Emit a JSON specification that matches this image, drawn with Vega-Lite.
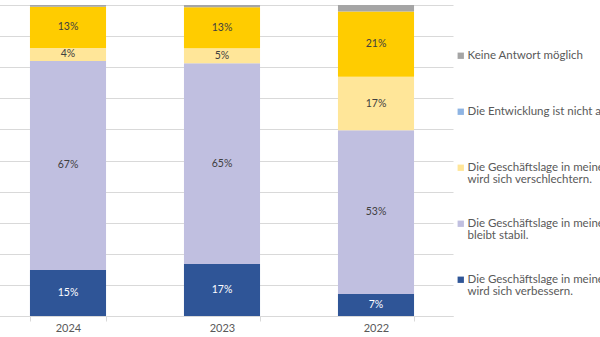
{
  "$schema": "https://vega.github.io/schema/vega-lite/v6.json",
  "width": 453,
  "height": 311,
  "autosize": {"type": "none"},
  "padding": {"left": 0, "top": 5, "right": 147, "bottom": 21},
  "background": "white",
  "config": {"view": {"stroke": null}, "font": "Lato"},
  "data": {
    "values": [
      {"Jahr": "2024", "Antwort": "Die Geschäftslage in meiner Branche wird sich verbessern.", "Anteil": 0.148},
      {"Jahr": "2024", "Antwort": "Die Geschäftslage in meiner Branche bleibt stabil.", "Anteil": 0.672},
      {"Jahr": "2024", "Antwort": "Die Geschäftslage in meiner Branche wird sich verschlechtern.", "Anteil": 0.042},
      {"Jahr": "2024", "Antwort": "Die Entwicklung ist nicht abschätzbar.", "Anteil": 0.132},
      {"Jahr": "2024", "Antwort": "Keine Antwort möglich", "Anteil": 0.006},
      {"Jahr": "2023", "Antwort": "Die Geschäftslage in meiner Branche wird sich verbessern.", "Anteil": 0.167},
      {"Jahr": "2023", "Antwort": "Die Geschäftslage in meiner Branche bleibt stabil.", "Anteil": 0.646},
      {"Jahr": "2023", "Antwort": "Die Geschäftslage in meiner Branche wird sich verschlechtern.", "Anteil": 0.048},
      {"Jahr": "2023", "Antwort": "Die Entwicklung ist nicht abschätzbar.", "Anteil": 0.132},
      {"Jahr": "2023", "Antwort": "Keine Antwort möglich", "Anteil": 0.007},
      {"Jahr": "2022", "Antwort": "Die Geschäftslage in meiner Branche wird sich verbessern.", "Anteil": 0.071},
      {"Jahr": "2022", "Antwort": "Die Geschäftslage in meiner Branche bleibt stabil.", "Anteil": 0.526},
      {"Jahr": "2022", "Antwort": "Die Geschäftslage in meiner Branche wird sich verschlechtern.", "Anteil": 0.172},
      {"Jahr": "2022", "Antwort": "Die Entwicklung ist nicht abschätzbar.", "Anteil": 0.210},
      {"Jahr": "2022", "Antwort": "Keine Antwort möglich", "Anteil": 0.021}
    ]
  },
  "transform": [
    {"calculate": "indexof(['Die Geschäftslage in meiner Branche wird sich verbessern.', 'Die Geschäftslage in meiner Branche bleibt stabil.', 'Die Geschäftslage in meiner Branche wird sich verschlechtern.', 'Die Entwicklung ist nicht abschätzbar.', 'Keine Antwort möglich'], datum.Antwort)", "as": "rang"}
  ],
  "encoding": {
    "x": {
      "field": "Jahr",
      "type": "nominal",
      "sort": ["2024", "2023", "2022"],
      "scale": {"range": [-9, 453], "paddingInner": 0.506, "paddingOuter": 0.253},
      "axis": {
        "title": null,
        "labelAngle": 0,
        "tickBand": "extent",
        "domainColor": "#d9d9d9",
        "tickColor": "#d9d9d9",
        "tickSize": 5,
        "labelColor": "#595959",
        "labelFontSize": 11,
        "labelPadding": 1,
        "grid": false
      }
    }
  },
  "layer": [
    {
      "mark": {"type": "square", "filled": true, "size": 4, "opacity": 1},
      "encoding": {
        "y": {
          "field": "Anteil",
          "type": "quantitative",
          "scale": {"domain": [0, 1]},
          "axis": {
            "title": null,
            "labels": false,
            "ticks": false,
            "domain": false,
            "grid": true,
            "gridColor": "#d9d9d9",
            "values": [0, 0.1, 0.2, 0.3, 0.4, 0.5, 0.6, 0.7, 0.8, 0.9, 1]
          }
        },
        "fill": {
          "field": "Antwort",
          "type": "nominal",
          "scale": {
            "domain": ["Keine Antwort möglich", "Die Entwicklung ist nicht abschätzbar.", "Die Geschäftslage in meiner Branche wird sich verschlechtern.", "Die Geschäftslage in meiner Branche bleibt stabil.", "Die Geschäftslage in meiner Branche wird sich verbessern."],
            "range": ["#A5A5A5", "#8EB4E3", "#FFE699", "#C0BFE0", "#2F5597"]
          },
          "legend": {
            "orient": "none",
            "legendX": 455,
            "legendY": 45,
            "title": null,
            "symbolType": "square",
            "symbolSize": 40,
            "symbolStrokeWidth": 0,
            "symbolOpacity": 1,
            "labelFontSize": 11.5,
            "labelColor": "#595959",
            "labelLimit": 400,
            "labelOffset": 1,
            "rowPadding": 31,
            "labelExpr": "indexof(datum.label, 'Branche ') > 0 ? split(replace(datum.label, 'Branche ', 'Branche|'), '|') : split(datum.label + '| ', '|')",
            "encode": {
              "labels": {"update": {"lineHeight": {"value": 12}}}
            }
          }
        }
      }
    },
    {
      "mark": {"type": "bar"},
      "encoding": {
        "y": {
          "field": "Anteil",
          "type": "quantitative",
          "stack": "zero",
          "scale": {"domain": [0, 1]},
          "axis": {
            "title": null,
            "labels": false,
            "ticks": false,
            "domain": false,
            "grid": true,
            "gridColor": "#d9d9d9",
            "values": [0, 0.1, 0.2, 0.3, 0.4, 0.5, 0.6, 0.7, 0.8, 0.9, 1]
          }
        },
        "order": {"field": "rang", "type": "quantitative"},
        "color": {
          "field": "Antwort",
          "type": "nominal",
          "scale": {
            "domain": ["Keine Antwort möglich", "Die Entwicklung ist nicht abschätzbar.", "Die Geschäftslage in meiner Branche wird sich verschlechtern.", "Die Geschäftslage in meiner Branche bleibt stabil.", "Die Geschäftslage in meiner Branche wird sich verbessern."],
            "range": ["#A5A5A5", "#FFCC00", "#FFE699", "#C0BFE0", "#2F5597"]
          },
          "legend": null
        }
      }
    },
    {
      "transform": [
        {"stack": "Anteil", "groupby": ["Jahr"], "sort": [{"field": "rang"}], "as": ["y0", "y1"]},
        {"filter": "datum.Antwort !== 'Keine Antwort möglich'"},
        {"calculate": "(datum.y0 + datum.y1) / 2", "as": "mitte"}
      ],
      "mark": {"type": "text", "fontSize": 10.5},
      "encoding": {
        "y": {
          "field": "mitte",
          "type": "quantitative",
          "axis": {
            "title": null,
            "labels": false,
            "ticks": false,
            "domain": false,
            "grid": true,
            "gridColor": "#d9d9d9",
            "values": [0, 0.1, 0.2, 0.3, 0.4, 0.5, 0.6, 0.7, 0.8, 0.9, 1]
          }
        },
        "text": {"field": "Anteil", "type": "quantitative", "format": ".0%"},
        "color": {
          "condition": {"test": "datum.Antwort === 'Die Geschäftslage in meiner Branche wird sich verbessern.'", "value": "white"},
          "value": "#404040"
        }
      }
    }
  ]
}
